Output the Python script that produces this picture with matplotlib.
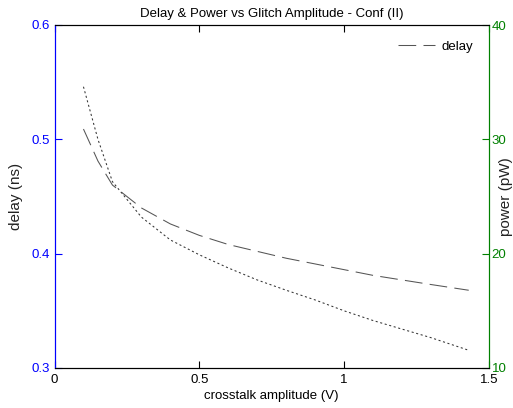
import matplotlib
matplotlib.use("Agg")
import matplotlib.pyplot as plt

plt.rcParams['font.family'] = ['Liberation Sans', 'DejaVu Sans']

x = [0.1, 0.15, 0.2, 0.3, 0.4, 0.5, 0.6, 0.7, 0.8, 0.9, 1.0, 1.1, 1.2, 1.3, 1.43]
delay = [0.509, 0.481, 0.460, 0.440, 0.426, 0.416, 0.408, 0.402, 0.396, 0.391, 0.386, 0.381, 0.377, 0.373, 0.368]
power = [34.6, 30.0, 26.3, 23.2, 21.2, 19.9, 18.75, 17.7, 16.8, 15.95, 15.0, 14.15, 13.4, 12.65, 11.55]

xticks = [0, 0.5, 1, 1.5]
xticklabels = ['0', '0.5', '1', '1.5']
yticks_left = [0.3, 0.4, 0.5, 0.6]
yticks_right = [10, 20, 30, 40]

fig = plt.figure(figsize=(5.13, 4.08), dpi=100)
ax = fig.add_axes([54.5/513, 1-368/408, (489-54.5)/513, (368-25)/408])
ax2 = ax.twinx()

fs = 9.5
ax.plot(x, delay, color='#555555', lw=0.75, linestyle=(0, (17, 7)), label='delay')
ax2.plot(x, power, color='#333333', lw=0.75, linestyle=(0, (2, 2.5)))

ax.set_xlim(0, 1.5)
ax.set_ylim(0.3, 0.6)
ax2.set_ylim(10, 40)
ax.set_xticks(xticks)
ax.set_xticklabels(xticklabels)
ax.set_yticks(yticks_left)
ax.set_yticklabels(['0.3', '0.4', '0.5', '0.6'])
ax2.set_yticks(yticks_right)

ax.tick_params(axis='x', direction='in', length=5, top=True, labelsize=fs, colors='black', pad=4)
ax.tick_params(axis='y', direction='in', length=5, labelsize=fs, colors='blue', pad=3)
ax2.tick_params(axis='y', direction='in', length=5, labelsize=fs, colors='green', pad=2)

for a in (ax, ax2):
    a.spines['top'].set_color('black')
    a.spines['bottom'].set_color('black')
    a.spines['left'].set_color('blue')
    a.spines['right'].set_color('green')
    for s in a.spines.values():
        s.set_linewidth(0.8)

ax.set_title('Delay & Power vs Glitch Amplitude - Conf (II)', fontsize=fs, pad=6)
ax.set_xlabel('crosstalk amplitude (V)', fontsize=fs, labelpad=3)
ax.set_ylabel('delay (ns)', fontsize=fs + 1.5, color='#222222')
ax.yaxis.set_label_coords(-0.073, 0.5)
ax2.set_ylabel('power (pW)', fontsize=fs + 1.5, color='#222222', rotation=90)
ax2.yaxis.set_label_coords(1.022, 0.5)

leg = ax.legend(loc='upper right', frameon=False, fontsize=fs, handlelength=2.8,
                handletextpad=0.5, borderaxespad=0.8)

fig.savefig('out.png', dpi=100)
